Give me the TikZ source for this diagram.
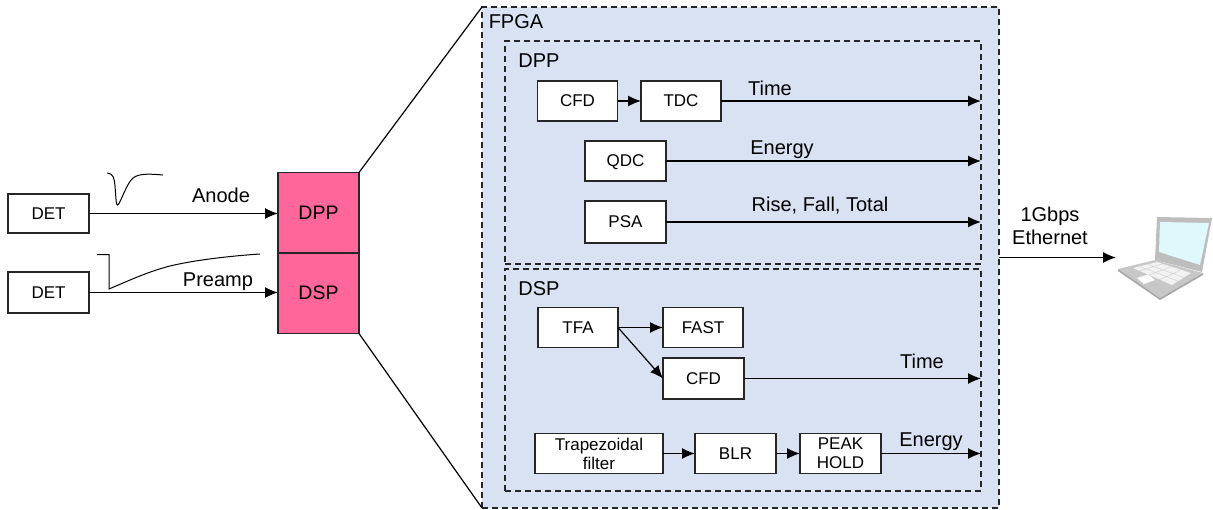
\documentclass[tikz,border=0pt]{standalone}
\usepackage{fontspec}
\setmainfont{Liberation Sans}
\usetikzlibrary{arrows.meta}
\definecolor{fpgablue}{HTML}{D9E2F3}
\definecolor{blockpink}{HTML}{FF6699}
\definecolor{linedark}{HTML}{262626}
\definecolor{screenblue}{HTML}{DFF8FB}
\definecolor{laptopgray}{HTML}{BDBDBD}
\tikzset{
    block/.style={draw=linedark, line width=1.2pt, fill=white, outer sep=0pt, inner sep=0pt, align=center,
        minimum width=80pt, minimum height=40pt, font=\fontsize{17}{19}\selectfont},
    pinkblock/.style={block, fill=blockpink, minimum width=81pt, minimum height=80.5pt, font=\fontsize{19.5}{22}\selectfont},
    lowtext/.style={text depth=-10pt},
    frame/.style={draw=linedark, line width=1.2pt, dash pattern=on 6pt off 4pt, outer sep=0pt, inner sep=0pt},
    signal/.style={draw=black, line width=1.2pt, -{Latex[length=13pt,width=11pt]}},
    label/.style={inner sep=0pt, font=\fontsize{20}{23}\selectfont, align=center},
    wave/.style={draw=black, line width=1pt}
}
\begin{document}
\begin{tikzpicture}[x=1pt,y=-1pt]
    \useasboundingbox (0,0) rectangle (1213,509);

    % outer frames
    \node[frame, fill=fpgablue, minimum width=517pt, minimum height=501pt] (fpga) at (740.5,257.5) {};
    \node[frame, minimum width=476pt, minimum height=223pt] (dppframe) at (743,152.5) {};
    \node[frame, minimum width=476pt, minimum height=222pt] (dspframe) at (743,380) {};
    \node[label] (fpgatext) at (516,22) {FPGA};
    \node[label] (dpptext) at (539,60.5) {DPP};
    \node[label] (dsptext) at (539,288.5) {DSP};

    % detectors and pink blocks
    \node[block, minimum width=81pt, minimum height=39pt, text depth=-2pt] (det1) at (48.5,213.5) {DET};
    \node[block, minimum width=81pt, minimum height=41pt, text depth=-2pt] (det2) at (48.5,292.5) {DET};
    \node[pinkblock] (dpp) at (318.5,212.75) {DPP};
    \node[pinkblock] (dsp) at (318.5,293.25) {DSP};

    % zoom lines
    \draw[line width=1.2pt, black] (dpp.north east) -- (fpga.north west);
    \draw[line width=1.2pt, black] (dsp.south east) -- (fpga.south west);

    \draw[signal] (det1.east) -- (dpp.west |- det1.east);
    \draw[signal] (det2.east) -- (dsp.west |- det2.east);
    \node[label] (anode) at (221,195) {Anode};
    \node[label] (preamp) at (218,281.5) {Preamp};

    % pulse shapes
    \draw[wave] (107,173) .. controls (114,174) and (114,178) .. (115,186)
        .. controls (116,198) and (116,205) .. (117.5,205)
        .. controls (120,205) and (126,184) .. (133,178)
        .. controls (139,173) and (152,174) .. (163,175);
    \draw[wave] (97,254.5) -- (109,254.5) -- (109,289)
        .. controls (130,280) and (150,271) .. (170,266)
        .. controls (195,260) and (230,256) .. (260,254);

    % DPP path
    \node[block] (cfda) at (577.5,101) {CFD};
    \node[block] (tdc) at (681,101) {TDC};
    \node[block, minimum width=81pt, text depth=-3pt] (qdc) at (625.5,161) {QDC};
    \node[block, minimum width=81pt, minimum height=42pt, text depth=-2pt] (psa) at (625.5,222) {PSA};
    \draw[signal] (cfda.east) -- (tdc.west);
    \draw[signal] (tdc.east) -- (tdc.east -| dppframe.east);
    \draw[signal] (qdc.east) -- (qdc.east -| dppframe.east);
    \draw[signal] (psa.east) -- (psa.east -| dppframe.east);
    \node[label] (timea) at (770,88) {Time};
    \node[label] (energya) at (782,150) {Energy};
    \node[label] (risefall) at (820,206) {Rise, Fall, Total};

    % DSP path
    \node[block] (tfa) at (578,327.5) {TFA};
    \node[block] (fast) at (703,327.5) {FAST};
    \node[block, minimum width=81pt, minimum height=41pt] (cfdb) at (703.5,378.5) {CFD};
    \draw[signal] (tfa.east) -- (fast.west);
    \draw[signal] (tfa.east) -- (cfdb.west);
    \draw[signal] (cfdb.east) -- (cfdb.east -| dspframe.east);
    \node[label] (timeb) at (922,361.5) {Time};

    \node[block, lowtext, minimum width=128pt] (trap) at (599,453.5) {Trapezoidal\\filter};
    \node[block, minimum width=81pt, text depth=-2pt] (blr) at (735.5,453.5) {BLR};
    \node[block, lowtext, minimum width=81pt] (peak) at (840.5,453.5) {PEAK\\HOLD};
    \draw[signal] (trap.east) -- (blr.west);
    \draw[signal] (blr.east) -- (peak.west);
    \draw[signal] (peak.east) -- (peak.east -| dspframe.east);
    \node[label] (energyb) at (931,442) {Energy};

    % link to the laptop
    \coordinate (port) at (1116,257.5);
    \draw[signal] (fpga.east) -- (port);
    \node[label] (linktext) at (1050,226) {1Gbps\\Ethernet};

    % laptop
    \fill[laptopgray] (1157,217) -- (1212,218) -- (1202,272) -- (1155,260) -- cycle;
    \fill[screenblue] (1160,222) -- (1209,223) -- (1200,265) -- (1159,252) -- cycle;
    \fill[laptopgray!85!white] (1118,269) -- (1155,260) -- (1203,273) -- (1160,298) -- cycle;
    \fill[gray!70] (1118,269) -- (1160,298) -- (1203,273) -- (1203,275) -- (1160,300) -- (1118,271) -- cycle;
    \fill[white!90!gray] (1133,268) -- (1157,262) -- (1191,273) -- (1172,285) -- cycle;
    \fill[white] (1137,278) -- (1148,274.5) -- (1155,280) -- (1144,284) -- cycle;
    \draw[gray!35, line width=0.5pt] (1140,266.5) -- (1178,281) (1148,264.5) -- (1184,277.5) (1139,271) -- (1164,263.5) (1149,275) -- (1173,266) (1159,280) -- (1182,269.5);
\end{tikzpicture}
\end{document}
